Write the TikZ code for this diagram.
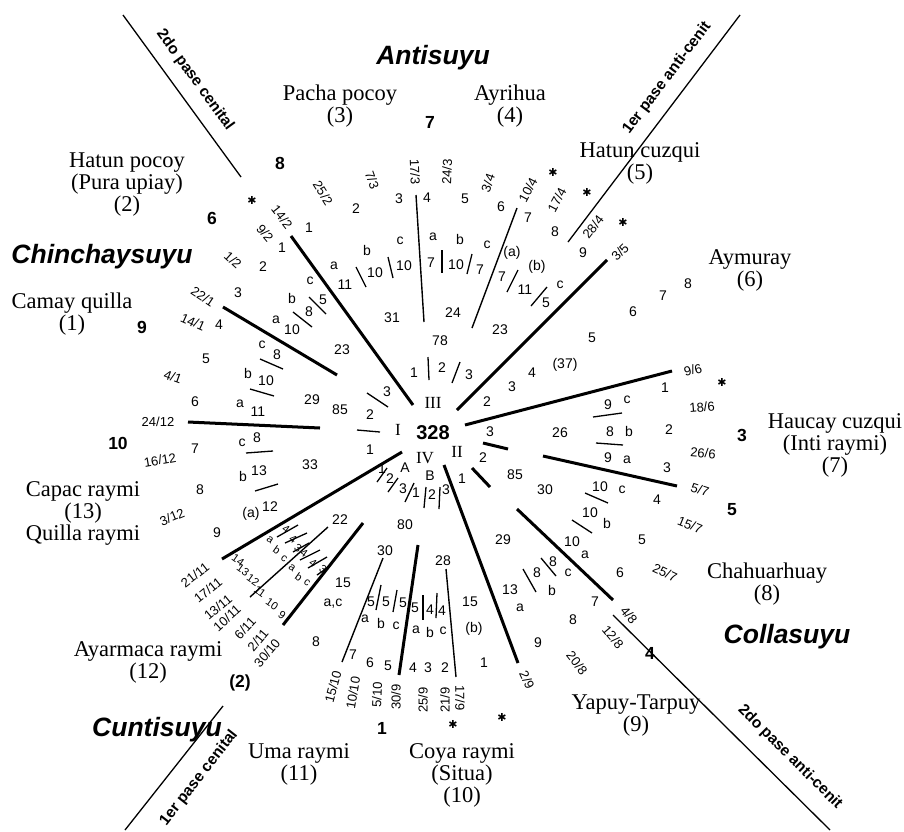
\documentclass[tikz,border=0pt]{standalone}
\usepackage{fontspec}
\setmainfont{Liberation Serif}
\setsansfont{Liberation Sans}
\newfontfamily\djv{DejaVu Sans}
\newcommand\fnum{\sffamily\fontsize{14}{15}\selectfont}
\newcommand\ffr{\sffamily\fontsize{13}{14}\selectfont}
\newcommand\fsm{\sffamily\fontsize{11}{12}\selectfont}
\newcommand\fcnt{\sffamily\bfseries\fontsize{17.5}{19}\selectfont}
\newcommand\fnam{\rmfamily\fontsize{22.5}{22}\selectfont}
\newcommand\fsuyu{\sffamily\bfseries\itshape\fontsize{26.5}{27}\selectfont}
\newcommand\fpass{\sffamily\bfseries\fontsize{15.5}{16}\selectfont}
\newcommand\fromn{\rmfamily\fontsize{17}{18}\selectfont}
\newcommand\fctr{\sffamily\bfseries\fontsize{20}{21}\selectfont}
\newcommand\fast{\djv\fontsize{11}{12}\selectfont}
\tikzset{
 nm/.style={inner sep=0pt, font=\fnum},
 frc/.style={inner sep=0pt, font=\ffr, rotate=#1},
 sm/.style={inner sep=0pt, font=\fsm, rotate=-35},
 cnt/.style={inner sep=0pt, font=\fcnt},
 nam/.style={inner sep=0pt, font=\fnam, align=center},
 suyu/.style={inner sep=0pt, font=\fsuyu},
 pass/.style={inner sep=0pt, font=\fpass, rotate=#1},
 rom/.style={inner sep=0pt, font=\fromn},
 ast/.style={inner sep=0pt, font=\fast},
 thk/.style={line width=3pt},
 thn/.style={line width=1.4pt},
 tck/.style={line width=1.3pt},
 pln/.style={line width=1.3pt},
}
\begin{document}
\begin{tikzpicture}[x=1pt,y=-1pt]
\fill[white] (0,0) rectangle (904,831);
\useasboundingbox (0,0) rectangle (904,831);

% thick radial lines
\foreach \a/\b/\c/\d in {291/236/413/405, 223/307/337/375, 188/422/320/428, 402/452/222/559,
  363/523/283/625, 418/545/399/675, 444/465/518/663, 517/509/613/600, 543/456/677/486,
  465/425/672/371, 457/410/607/260, 483/443/508/449, 472/468/490/487}
  \draw[thk] (\a,\b) -- (\c,\d);
% thin lines
\foreach \a/\b/\c/\d in {416/195/424/322, 517/208/472/328, 383/558/342/662, 446/569/456/677, 328/527/250/597}
  \draw[thn] (\a,\b) -- (\c,\d);
% ticks
\foreach \a/\b/\c/\d in {428/357/429/380, 460/362/452/383, 367/393/388/407, 357/430/380/432,
  356/267/366/287, 388/257/393/278, 442/250/442/273, 472/254/467/274, 507/292/518/270, 531/306/547/287,
  293/312/312/327, 309/297/326/314, 260/359/283/369, 250/389/274/396, 246/453/273/451, 255/491/278/484,
  593/417/622/413, 596/443/623/445, 585/493/608/503, 572/520/592/533, 523/569/536/592, 541/558/556/576,
  381/585/376/610, 397/590/393/612, 423/595/423/620, 437/593/436/618,
  405/502/414/483, 424/508/426/487, 439/509/440/487, 377/482/387/468, 388/492/398/478,
  277/537/298/525, 285/543/307/533, 293/552/309/543, 300/560/320/550, 308/568/327/557, 317/575/330/566}
  \draw[tck] (\a,\b) -- (\c,\d);
% pass lines
\foreach \a/\b/\c/\d in {123/15/241/177, 568/242/740/15, 613/615/830/830, 223/706/125/830}
  \draw[pln] (\a,\b) -- (\c,\d);

% pass labels
\node[pass=-54] (p1) at (195,80) {2do pase cenital};
\node[pass=53] (p2) at (667,78) {1er pase anti-cenit};
\node[pass=-45] (p3) at (790,757) {2do pase anti-cenit};
\node[pass=52] (p4) at (199,778) {1er pase cenital};

% suyu names
\node[suyu] (s1) at (433,58) {Antisuyu};
\node[suyu] (s2) at (102,257) {Chinchaysuyu};
\node[suyu] (s3) at (787,637) {Collasuyu};
\node[suyu] (s4) at (157,730) {Cuntisuyu};

% month names
\node[nam] (m3) at (340,106) {Pacha pocoy\\(3)};
\node[nam] (m4) at (510,106) {Ayrihua\\(4)};
\node[nam] (m5) at (640,163) {Hatun cuzqui\\(5)};
\node[nam] (m2) at (127,185) {Hatun pocoy\\(Pura upiay)\\(2)};
\node[nam] (m1) at (72,314) {Camay quilla\\(1)};
\node[nam] (m6) at (750,270) {Aymuray\\(6)};
\node[nam] (m7) at (835,445) {Haucay cuzqui\\(Inti raymi)\\(7)};
\node[nam] (m8) at (767,584) {Chahuarhuay\\(8)};
\node[nam] (m9) at (636,716) {Yapuy-Tarpuy\\(9)};
\node[nam] (m10) at (462,775) {Coya raymi\\(Situa)\\(10)};
\node[nam] (m11) at (299,764) {Uma raymi\\(11)};
\node[nam] (m12) at (148,662) {Ayarmaca raymi\\(12)};
\node[nam] (m13) at (83,513) {Capac raymi\\(13)\\Quilla raymi};

% bold counts
\foreach \x/\y/\txt [count=\i] in {280/163/8, 430/122/7, 212/218/6, 142/327/9, 118/443/10,
  742/435/3, 732/510/5, 650/653/4, 382/728/1, 240/683/(2)}
  \node[cnt] (c\i) at (\x,\y) {\txt};

% asterisks
\foreach \x/\y [count=\i] in {252/200, 553/172, 587/192, 623/222, 722/382, 453/724, 502/717}
  \node[ast] (a\i) at (\x,\y) {✱};

% center and roman numerals
\node[inner sep=0pt, font=\fctr] (ctr) at (433,433) {328};
\node[rom] (r3) at (433,403) {III};
\node[rom] (r1) at (398,430) {I};
\node[rom] (r2) at (457,452) {II};
\node[rom] (r4) at (425,458) {IV};

% fractions
\foreach \x/\y/\r/\txt [count=\i] in {282/217/-52/{14/2}, 265/233/-50/{9/2}, 233/260/-42/{1/2},
  203/297/-34/{22/1}, 193/322/-24/{14/1}, 173/377/-20/{4/1}, 158/422/0/{24/12}, 160/460/10/{16/12},
  172/517/22/{3/12}, 323/193/-58/{25/2}, 372/180/-70/{7/3}, 415/172/-88/{17/3}, 447/172/88/{24/3},
  488/183/70/{3/4}, 528/190/62/{10/4}, 557/200/62/{17/4}, 593/227/52/{28/4}, 620/252/45/{3/5},
  693/370/15/{9/6}, 702/407/5/{18/6}, 703/453/-5/{26/6}, 700/490/-18/{5/7}, 690/525/-22/{15/7},
  665/573/-25/{25/7}, 629/615/-50/{4/8}, 613/637/-50/{12/8}, 577/663/-52/{20/8}, 527/680/-65/{2/9},
  460/698/-90/{17/9}, 445/700/90/{21/9}, 423/700/90/{25/9}, 396/697/90/{30/9}, 377/695/88/{5/10},
  353/693/80/{10/10}, 333/687/75/{15/10}, 267/653/50/{30/10}, 258/640/50/{2/11}, 245/628/47/{6/11},
  227/618/42/{10/11}, 218/607/40/{13/11}, 208/590/39/{17/11}, 195/575/38/{21/11}}
  \node[frc=\r] (f\i) at (\x,\y) {\txt};

% numbers and letters
\foreach \x/\y/\txt [count=\i] in {
  309/228/1, 356/209/2, 399/199/3, 427/198/4, 465/199/5, 501/207/6, 528/218/7, 555/232/8, 583/253/9,
  282/248/1, 263/267/2, 238/293/3, 219/325/4, 206/359/5, 195/402/6, 195/449/7, 200/490/8, 217/533/9,
  487/402/2, 512/387/3, 532/373/4, 565/365/(37), 592/338/5, 633/312/6, 663/296/7, 688/284/8,
  665/388/1, 669/430/2, 667/468/3, 657/500/4, 642/540/5, 620/573/6, 595/602/7, 573/620/8, 538/643/9,
  484/663/1, 445/668/2, 428/668/3, 413/668/4, 388/666/5, 370/663/6, 353/655/7, 316/642/8,
  334/266/a, 345/285/11, 367/250/b, 375/273/10, 400/241/c, 404/266/10, 433/237/a, 431/263/7,
  460/239/b, 456/265/10, 487/245/c, 480/270/7, 512/253/(a), 502/277/7, 537/267/(b), 525/290/11,
  560/285/c, 546/303/5,
  310/281/c, 292/298/b, 309/312/8, 323/300/5, 276/320/a, 292/330/10,
  262/345/c, 277/355/8, 248/373/b, 266/381/10, 240/404/a, 258/412/11, 242/443/c, 257/438/8,
  243/476/b, 259/471/13, 251/514/(a), 270/507/12,
  342/350/23, 392/318/31, 453/313/24, 500/330/23, 440/341/78, 414/373/1, 442/368/2, 469/375/3,
  387/392/3, 370/415/2, 370/450/1, 312/400/29, 340/410/85, 310/465/33,
  490/432/3, 483/458/2, 462/479/1, 515/475/85, 545/490/30, 560/433/26,
  608/405/9, 627/400/c, 610/432/8, 629/431/b, 608/458/9, 627/460/a, 600/487/10, 622/490/c,
  590/513/10, 607/523/b, 572/542/10, 585/555/a,
  503/540/29, 510/590/13, 520/608/a, 537/573/8, 553/562/8, 552/590/b, 568/573/c,
  385/551/30, 443/561/28, 405/525/80, 340/520/22, 343/583/15, 333/604/{a,c}, 470/602/15, 474/629/(b),
  371/602/5, 386/602/5, 403/603/5, 415/608/5, 430/610/4, 442/611/4,
  365/619/a, 381/623/b, 396/626/c, 416/630/a, 430/632/b, 443/631/c,
  405/468/A, 430/476/B, 416/493/1, 432/495/2, 446/490/3, 382/469/1, 390/479/2, 403/489/3}
  \node[nm] (n\i) at (\x,\y) {\txt};

% small rotated labels (lower left)
\foreach \x/\y/\txt [count=\i] in {238/560/14, 243/570/13, 253/580/12, 260/592/11, 272/604/10, 282/615/9,
  286/529/4, 293/539/4, 298/548/3, 304/553/4, 313/563/4, 323/569/3,
  270/540/a, 277/550/b, 284/559/c, 292/568/a, 299/577/b, 307/583/c}
  \node[sm] (q\i) at (\x,\y) {\txt};
\end{tikzpicture}
\end{document}
